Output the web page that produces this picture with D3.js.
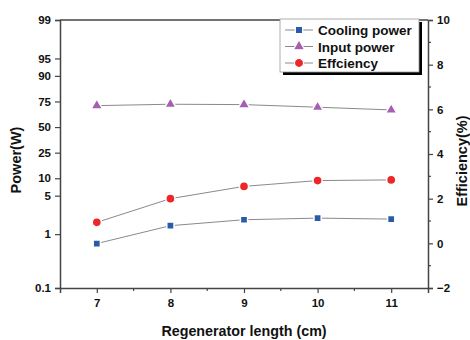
<!DOCTYPE html>
<html>
<head>
<meta charset="utf-8">
<script src="https://cdn.jsdelivr.net/npm/d3@7"></script>
<style>
  body { margin: 0; background: #fff; }
  text { font-family: "Liberation Sans", Arial, sans-serif; font-weight: bold; fill: #111; }
</style>
</head>
<body>
<div id="chart-area"></div>
<script>
// regenerator length (cm)
var lengths = [7, 8, 9, 10, 11];
// power (W), left axis
var coolingPower = [0.67, 1.43, 1.84, 1.97, 1.89];
var inputPower = [71.5, 72.7, 72.4, 70.1, 67.6];
// efficiency (%), right axis
var efficiency = [0.94, 2.0, 2.55, 2.81, 2.84];

var powerTicks = [0.1, 1, 5, 10, 25, 50, 75, 90, 95, 99];
var effTicks = [-2, 0, 2, 4, 6, 8, 10];
var effMinor = [-1, 1, 3, 5, 7, 9];
var xTicks = [7, 8, 9, 10, 11];
var xMinor = [7.5, 8.5, 9.5, 10.5];

var width = 470, height = 340;
var margin = { left: 60, right: 42, top: 20, bottom: 52 };
var w = width - margin.left - margin.right;
var h = height - margin.top - margin.bottom;

var svg = d3.select("#chart-area")
    .append("svg")
    .attr("width", width)
    .attr("height", height);

var g = svg.append("g")
    .attr("transform", "translate(" + margin.left + "," + margin.top + ")");

// Origin-style probability (logit) axis for power
function logit(v) {
    var p = v / 100;
    return Math.log(p / (1 - p));
}

var x = d3.scaleLinear().domain([6.5, 11.5]).range([0, w]);
var yLin = d3.scaleLinear().domain([logit(0.1), logit(99)]).range([h, 0]);
var yPow = function (v) { return yLin(logit(v)); };
var yEff = d3.scaleLinear().domain([-2, 10]).range([h, 0]);

var axisColor = "#444";

// axes
var xAxis = g.append("g")
    .attr("transform", "translate(0," + h + ")")
    .call(d3.axisBottom(x).tickValues(xTicks).tickSize(5).tickPadding(6).tickFormat(d3.format("d")));
xAxis.append("g").selectAll("line")
    .data(xMinor).enter().append("line")
    .attr("x1", function (d) { return x(d); })
    .attr("x2", function (d) { return x(d); })
    .attr("y1", 0).attr("y2", 3);

var leftAxis = g.append("g")
    .call(d3.axisLeft(yLin)
        .tickValues(powerTicks.map(logit))
        .tickSize(5)
        .tickPadding(4)
        .tickFormat(function (d, i) { return powerTicks[i]; }));

var rightAxis = g.append("g")
    .attr("transform", "translate(" + w + ",0)")
    .call(d3.axisRight(yEff).tickValues(effTicks).tickSize(5).tickPadding(4));
rightAxis.append("g").selectAll("line")
    .data(effMinor).enter().append("line")
    .attr("y1", function (d) { return yEff(d); })
    .attr("y2", function (d) { return yEff(d); })
    .attr("x1", 0).attr("x2", 3);

[xAxis, leftAxis, rightAxis].forEach(function (a) {
    a.select(".domain").attr("stroke", axisColor).attr("stroke-width", 1.5);
    a.selectAll("line").attr("stroke", axisColor).attr("stroke-width", 1.2);
    a.selectAll("text")
        .attr("font-size", "11.5px")
        .attr("font-weight", "bold")
        .attr("font-family", "Liberation Sans, Arial, sans-serif")
        .attr("fill", "#111");
});

// top frame line
g.append("line")
    .attr("x1", 0).attr("x2", w)
    .attr("y1", 0).attr("y2", 0)
    .attr("stroke", axisColor)
    .attr("stroke-width", 1.5);

// axis labels
g.append("text")
    .attr("x", w / 2 + 0)
    .attr("y", h + 48)
    .attr("font-size", "14.3px")
    .attr("text-anchor", "middle")
    .text("Regenerator length (cm)");

g.append("text")
    .attr("transform", "translate(-39," + (h / 2 + 6) + ") rotate(-90)")
    .attr("font-size", "14.5px")
    .attr("text-anchor", "middle")
    .text("Power(W)");

g.append("text")
    .attr("transform", "translate(" + (w + 39) + "," + (h / 2 + 7) + ") rotate(-90)")
    .attr("font-size", "14.5px")
    .attr("text-anchor", "middle")
    .text("Efficiency(%)");

// series
var series = [
    { name: "Cooling power", values: coolingPower, y: yPow, color: "#2a5ba8", symbol: d3.symbolSquare, size: 52 },
    { name: "Input power", values: inputPower, y: yPow, color: "#a45fb0", symbol: d3.symbolTriangle, size: 58 },
    { name: "Effciency", values: efficiency, y: yEff, color: "#ee2629", symbol: d3.symbolCircle, size: 66 }
];

series.forEach(function (s) {
    var pts = lengths.map(function (l, i) { return [x(l), s.y(s.values[i])]; });
    g.append("path")
        .datum(pts)
        .attr("fill", "none")
        .attr("stroke", "#8a8a8a")
        .attr("stroke-width", 1)
        .attr("d", d3.line());
    g.selectAll(null)
        .data(pts)
        .enter().append("path")
        .attr("transform", function (d) { return "translate(" + d[0] + "," + d[1] + ")"; })
        .attr("d", d3.symbol().type(s.symbol).size(s.size))
        .attr("fill", s.color)
        .attr("stroke", "#fff")
        .attr("stroke-width", 1.5);
});

// legend
var lg = svg.append("g").attr("transform", "translate(280,19)");
lg.append("rect")
    .attr("x", 3).attr("y", 3)
    .attr("width", 139).attr("height", 53)
    .attr("fill", "#000");
lg.append("rect")
    .attr("x", 0).attr("y", 0)
    .attr("width", 139).attr("height", 53)
    .attr("fill", "#fff")
    .attr("stroke", "#999")
    .attr("stroke-width", 0.8);

series.forEach(function (s, i) {
    var row = lg.append("g").attr("transform", "translate(0," + (11 + i * 16.5) + ")");
    row.append("line")
        .attr("x1", 5).attr("x2", 33)
        .attr("stroke", "#8a8a8a").attr("stroke-width", 1);
    row.append("path")
        .attr("transform", "translate(19,0)")
        .attr("d", d3.symbol().type(s.symbol).size(s.size))
        .attr("fill", s.color)
        .attr("stroke", "#fff")
        .attr("stroke-width", 1.2);
    row.append("text")
        .attr("x", 38)
        .attr("y", 5)
        .attr("font-size", "13.5px")
        .text(s.name);
});
</script>
</body>
</html>
